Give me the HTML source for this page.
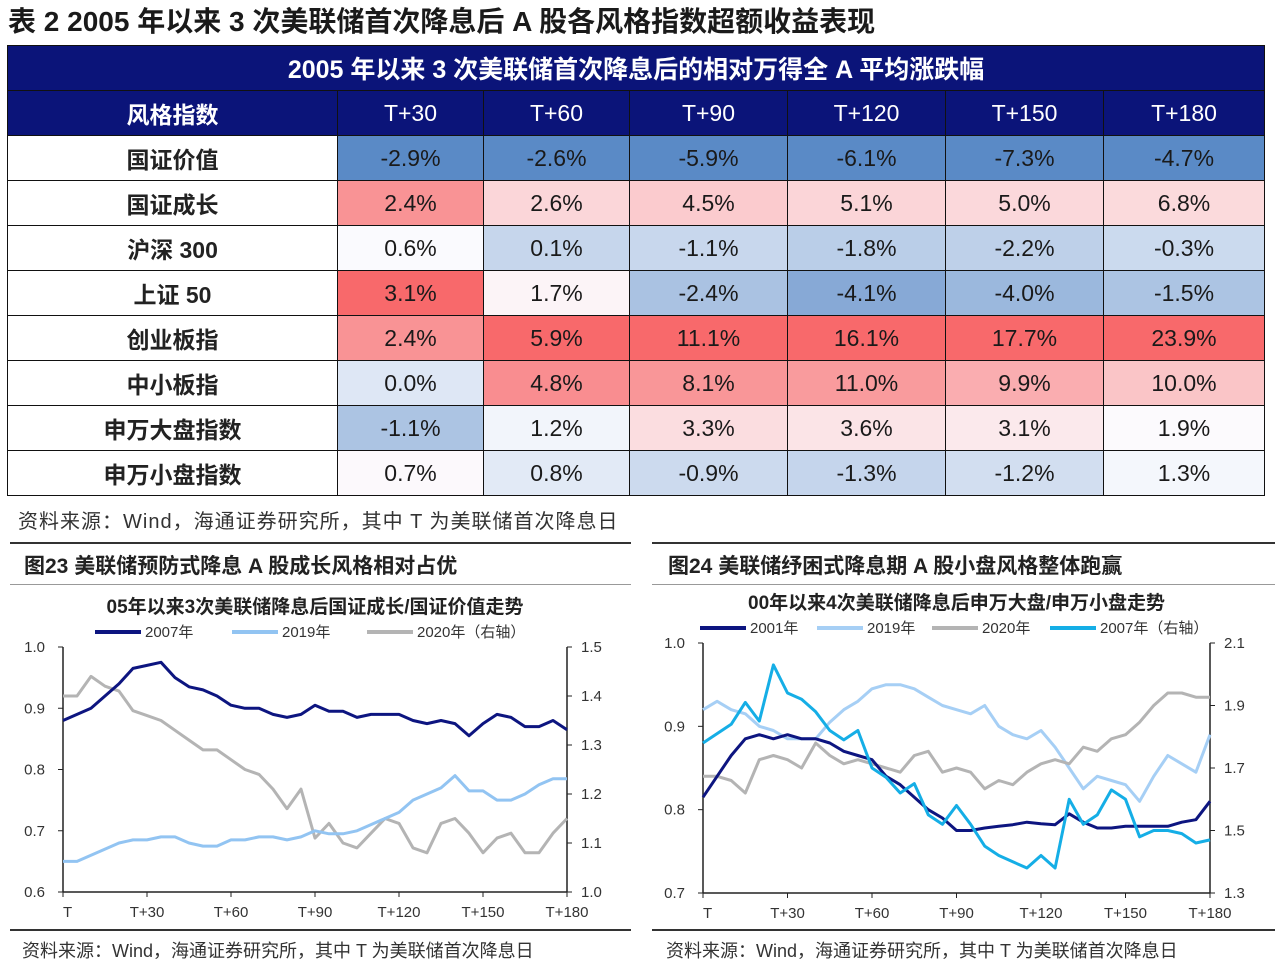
<!DOCTYPE html>
<html><head><meta charset="utf-8">
<style>
body{margin:0;width:1284px;height:964px;background:#fff;position:relative;overflow:hidden;font-family:"Liberation Sans","Noto Sans CJK SC",sans-serif;color:#1a1a1a}
.abs{position:absolute}
#title{left:8px;top:0px;font-size:28px;font-weight:bold;white-space:nowrap}
table{position:absolute;left:7px;top:45px;border-collapse:collapse;table-layout:fixed;width:1257px}
td,th{border:1.5px solid #111;text-align:center;padding:0;height:44px;font-size:23px;font-weight:normal}
th{background:#0b1479;color:#fff}
.lab{font-weight:bold;font-size:23px;color:#222}
.fn{font-size:20px;color:#333;white-space:nowrap;letter-spacing:1px}
.sec{font-size:21px;font-weight:bold;white-space:nowrap;color:#222}
.hl{height:2px;background:#333}
</style></head><body>
<div id="title" class="abs">表 2 2005 年以来 3 次美联储首次降息后 A 股各风格指数超额收益表现</div>
<table>
<colgroup><col style="width:330px"><col style="width:146px"><col style="width:146px"><col style="width:158px"><col style="width:158px"><col style="width:158px"><col style="width:161px"></colgroup>
<thead>
<tr><th colspan="7" style="font-weight:bold;font-size:25px">2005 年以来 3 次美联储首次降息后的相对万得全 A 平均涨跌幅</th></tr>
<tr id="hdr"></tr>
</thead>
<tbody id="tb"></tbody>
</table>
<div class="abs fn" style="left:18px;top:505px">资料来源：Wind，海通证券研究所，其中 T 为美联储首次降息日</div>

<div class="abs hl" style="left:10px;top:542px;width:621px"></div>
<div class="abs sec" style="left:24px;top:550px">图23 美联储预防式降息 A 股成长风格相对占优</div>
<div class="abs" style="left:10px;top:584px;width:621px;height:1px;background:#999"></div>
<div class="abs hl" style="left:10px;top:929px;width:621px"></div>
<div class="abs fn" style="left:22px;top:937px;font-size:18px;letter-spacing:0">资料来源：Wind，海通证券研究所，其中 T 为美联储首次降息日</div>

<div class="abs hl" style="left:652px;top:542px;width:623px"></div>
<div class="abs sec" style="left:668px;top:550px">图24 美联储纾困式降息期 A 股小盘风格整体跑赢</div>
<div class="abs" style="left:652px;top:584px;width:623px;height:1px;background:#999"></div>
<div class="abs hl" style="left:652px;top:929px;width:623px"></div>
<div class="abs fn" style="left:666px;top:937px;font-size:18px;letter-spacing:0">资料来源：Wind，海通证券研究所，其中 T 为美联储首次降息日</div>

<svg id="ch" class="abs" style="left:0;top:0" width="1284" height="964"></svg>

<script>
// ---------- table data ----------
const colLabels=["T+30","T+60","T+90","T+120","T+150","T+180"];
const rowLabels=["国证价值","国证成长","沪深 300","上证 50","创业板指","中小板指","申万大盘指数","申万小盘指数"];
const tableValues=[
[-2.9,-2.6,-5.9,-6.1,-7.3,-4.7],
[2.4,2.6,4.5,5.1,5.0,6.8],
[0.6,0.1,-1.1,-1.8,-2.2,-0.3],
[3.1,1.7,-2.4,-4.1,-4.0,-1.5],
[2.4,5.9,11.1,16.1,17.7,23.9],
[0.0,4.8,8.1,11.0,9.9,10.0],
[-1.1,1.2,3.3,3.6,3.1,1.9],
[0.7,0.8,-0.9,-1.3,-1.2,1.3]];

const hdr=document.getElementById('hdr');
{const th=document.createElement('th');th.textContent='风格指数';th.style.fontWeight='bold';th.style.fontSize='23px';


hdr.appendChild(th);}
colLabels.forEach(c=>{const th=document.createElement('th');th.textContent=c;


hdr.appendChild(th);});
function mix(a,b,t){return 'rgb('+a.map((v,i)=>Math.round(v+(b[i]-v)*t)).join(',')+')';}
const RED=[248,105,107],WHITE=[252,252,255],BLUE=[90,138,198];
function colColor(j,v){
  const col=tableValues.map(r=>r[j]);const s=[...col].sort((a,b)=>a-b);
  const mn=s[0],mx=s[s.length-1],md=(s[3]+s[4])/2;
  if(v>=md) return mix(WHITE,RED,mx===md?0:(v-md)/(mx-md));
  return mix(WHITE,BLUE,(md-v)/(md-mn));
}
const tb=document.getElementById('tb');
tableValues.forEach((row,i)=>{
  const tr=document.createElement('tr');
  
  
  const td=document.createElement('td');td.className='lab';td.textContent=rowLabels[i];
  
  
  tr.appendChild(td);
  row.forEach((v,j)=>{const c=document.createElement('td');c.textContent=v.toFixed(1)+'%';c.style.background=colColor(j,v);
    
    
    tr.appendChild(c);});
  tb.appendChild(tr);
});

// ---------- chart data (every 5 trading days, T..T+180) ----------
const xTickLabels=["T","T+30","T+60","T+90","T+120","T+150","T+180"];
const c1LeftTicks=[0.6,0.7,0.8,0.9,1.0];
const c1RightTicks=[1.0,1.1,1.2,1.3,1.4,1.5];
const c1s2007=[0.88,0.89,0.90,0.92,0.94,0.965,0.97,0.975,0.95,0.935,0.93,0.92,0.905,0.90,0.90,0.89,0.885,0.89,0.905,0.895,0.895,0.885,0.89,0.89,0.89,0.88,0.875,0.88,0.875,0.855,0.875,0.89,0.885,0.87,0.87,0.88,0.865];
const c1s2019=[0.65,0.65,0.66,0.67,0.68,0.685,0.685,0.69,0.69,0.68,0.675,0.675,0.685,0.685,0.69,0.69,0.685,0.69,0.70,0.695,0.695,0.70,0.71,0.72,0.73,0.75,0.76,0.77,0.79,0.765,0.765,0.75,0.75,0.76,0.775,0.785,0.785];
const c1s2020=[1.40,1.40,1.44,1.42,1.41,1.37,1.36,1.35,1.33,1.31,1.29,1.29,1.27,1.25,1.24,1.21,1.17,1.21,1.11,1.14,1.10,1.09,1.12,1.15,1.14,1.09,1.08,1.14,1.15,1.12,1.08,1.11,1.12,1.08,1.08,1.12,1.15];
const c2LeftTicks=[0.7,0.8,0.9,1.0];
const c2RightTicks=[1.3,1.5,1.7,1.9,2.1];
const c2s2001=[0.815,0.84,0.865,0.885,0.89,0.885,0.89,0.885,0.885,0.88,0.87,0.865,0.86,0.84,0.83,0.815,0.80,0.79,0.775,0.775,0.778,0.78,0.782,0.785,0.783,0.782,0.795,0.785,0.778,0.778,0.78,0.78,0.78,0.78,0.785,0.788,0.81];
const c2s2019=[0.92,0.93,0.92,0.915,0.90,0.895,0.885,0.885,0.885,0.905,0.92,0.93,0.945,0.95,0.95,0.945,0.935,0.925,0.92,0.915,0.925,0.90,0.89,0.885,0.895,0.875,0.85,0.825,0.84,0.835,0.83,0.81,0.84,0.865,0.855,0.845,0.89];
const c2s2020=[0.84,0.84,0.835,0.82,0.86,0.865,0.86,0.85,0.88,0.865,0.855,0.86,0.855,0.85,0.845,0.865,0.87,0.845,0.85,0.845,0.825,0.835,0.83,0.845,0.855,0.86,0.855,0.875,0.87,0.885,0.89,0.905,0.925,0.94,0.94,0.935,0.935];
const c2s2007=[1.78,1.81,1.84,1.91,1.85,2.03,1.94,1.92,1.88,1.82,1.79,1.82,1.70,1.67,1.62,1.65,1.55,1.52,1.58,1.52,1.45,1.42,1.40,1.38,1.42,1.38,1.60,1.52,1.55,1.63,1.60,1.48,1.50,1.50,1.49,1.46,1.47];

const svg=document.getElementById('ch');const NS='http://www.w3.org/2000/svg';
function el(tag,attrs,name,text){const e=document.createElementNS(NS,tag);for(const k in attrs)e.setAttribute(k,attrs[k]);
 
 
 if(text!==undefined)e.textContent=text;svg.appendChild(e);return e;}

function chart(cfg){
  const {x0,x1,y0,y1,lmin,lmax,rmin,rmax,lt,rt,prefix}=cfg;
  const xs=d=>x0+(x1-x0)*d/180;
  const yl=v=>y1-(y1-y0)*(v-lmin)/(lmax-lmin);
  const yr=v=>y1-(y1-y0)*(v-rmin)/(rmax-rmin);
  el('text',{x:(x0+x1)/2,y:y0-34,'text-anchor':'middle','font-size':19,'font-weight':'bold',fill:'#222','font-family':'Liberation Sans, Noto Sans CJK SC, sans-serif'},prefix+'-chart-title',cfg.title);
  el('line',{x1:x0,y1:y0,x2:x0,y2:y1,stroke:'#222','stroke-width':1.5},prefix+'-left-axis');
  el('line',{x1:x1,y1:y0,x2:x1,y2:y1,stroke:'#222','stroke-width':1.5},prefix+'-right-axis');
  el('line',{x1:x0,y1:y1,x2:x1,y2:y1,stroke:'#222','stroke-width':1.5},prefix+'-x-axis');
  lt.forEach(v=>{el('line',{x1:x0-5,y1:yl(v),x2:x0,y2:yl(v),stroke:'#222'},prefix+'-left-tick');
    el('text',{x:x0-18,y:yl(v)+5,'text-anchor':'end','font-size':15,fill:'#333'},prefix+'-left-tick-label',v.toFixed(1));});
  rt.forEach(v=>{el('line',{x1:x1,y1:yr(v),x2:x1+5,y2:yr(v),stroke:'#222'},prefix+'-right-tick');
    el('text',{x:x1+14,y:yr(v)+5,'font-size':15,fill:'#333'},prefix+'-right-tick-label',v.toFixed(1));});
  xTickLabels.forEach((t,i)=>{const x=xs(i*30);el('line',{x1:x,y1:y1,x2:x,y2:y1+5,stroke:'#222'},prefix+'-x-tick');
    el('text',{x:x,y:y1+25,'text-anchor':i===0?'start':'middle','font-size':15,fill:'#333'},prefix+'-x-tick-label',t);});
  cfg.series.forEach(s=>{
    const sc=s.right?yr:yl;
    const pts=s.data.map((v,i)=>xs(i*5).toFixed(1)+','+sc(v).toFixed(1)).join(' ');
    el('polyline',{points:pts,fill:'none',stroke:s.color,'stroke-width':3,'stroke-linejoin':'round'},prefix+'-series-'+s.key);
    el('line',{x1:s.lx,y1:y0-15,x2:s.lx+46,y2:y0-15,stroke:s.color,'stroke-width':4},prefix+'-legend-swatch-'+s.key);
    el('text',{x:s.lx+50,y:y0-10,'font-size':15,fill:'#333','font-family':'Liberation Sans, Noto Sans CJK SC, sans-serif'},prefix+'-legend-label-'+s.key,s.label);
  });
}
chart({x0:63,x1:567,y0:647,y1:892,lmin:0.6,lmax:1.0,rmin:1.0,rmax:1.5,lt:c1LeftTicks,rt:c1RightTicks,prefix:'fig23',
 title:'05年以来3次美联储降息后国证成长/国证价值走势',
 series:[
  {key:'2020',data:c1s2020,right:true,color:'#b4b4b4',lx:367,label:'2020年（右轴）'},
  {key:'2019',data:c1s2019,color:'#92c4f2',lx:232,label:'2019年'},
  {key:'2007',data:c1s2007,color:'#0d1580',lx:95,label:'2007年'}]});
chart({x0:703,x1:1210,y0:643,y1:893,lmin:0.7,lmax:1.0,rmin:1.3,rmax:2.1,lt:c2LeftTicks,rt:c2RightTicks,prefix:'fig24',
 title:'00年以来4次美联储降息后申万大盘/申万小盘走势',
 series:[
  {key:'2019',data:c2s2019,color:'#a6cff5',lx:817,label:'2019年'},
  {key:'2020',data:c2s2020,color:'#b4b4b4',lx:932,label:'2020年'},
  {key:'2001',data:c2s2001,color:'#0d1580',lx:700,label:'2001年'},
  {key:'2007',data:c2s2007,right:true,color:'#15aee6',lx:1050,label:'2007年（右轴）'}]});
</script>
</body></html>
